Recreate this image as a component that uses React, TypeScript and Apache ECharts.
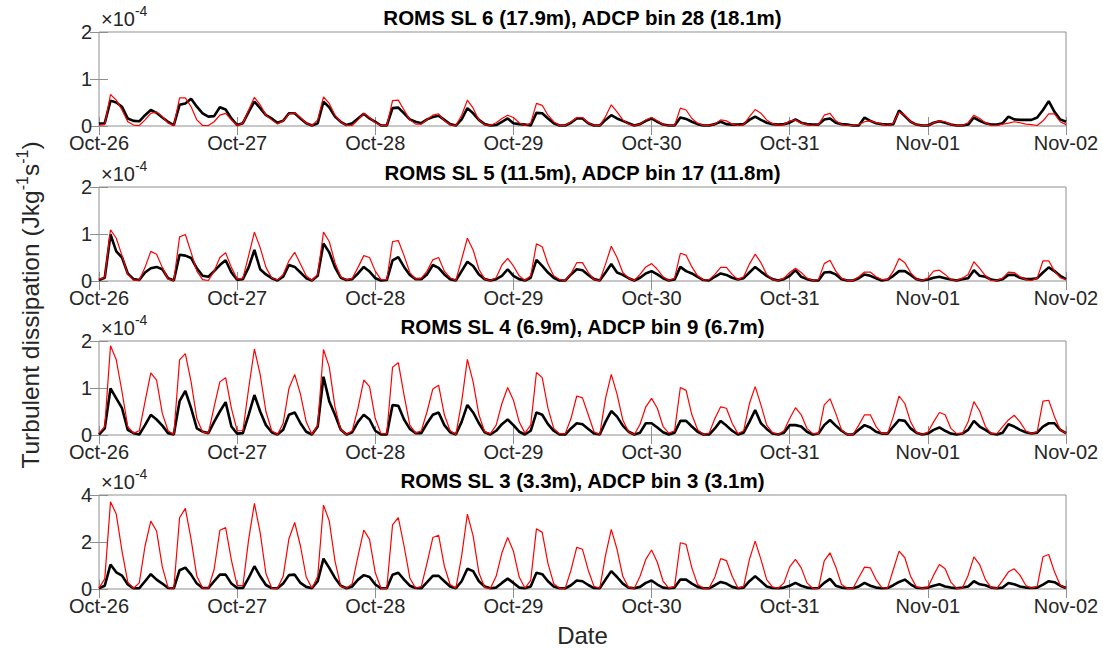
import React, { useEffect, useRef } from "react";
import * as echarts from "echarts";

// Tick labels on the time axis (one per day, hourly samples)
const dateLabels = ["Oct-26", "Oct-27", "Oct-28", "Oct-29", "Oct-30", "Oct-31", "Nov-01", "Nov-02"];
const hoursPerDay = 24;

// Values are in units of 1e-4 J kg^-1 s^-1, hourly from Oct-26 00:00 to Nov-02 00:00
const romsSL6 = [
  0.02, 0.03, 0.67, 0.55, 0.34, 0.09, 0.02, 0.01, 0.13, 0.27,
  0.30, 0.20, 0.06, 0.01, 0.60, 0.60, 0.41, 0.13, 0.01, 0.01,
  0.09, 0.23, 0.27, 0.13, 0.01, 0.06, 0.34, 0.61, 0.45, 0.23,
  0.13, 0.04, 0.11, 0.26, 0.28, 0.18, 0.06, 0.01, 0.13, 0.62,
  0.48, 0.23, 0.09, 0.01, 0.01, 0.13, 0.27, 0.18, 0.07, 0.01,
  0.01, 0.54, 0.55, 0.34, 0.13, 0.04, 0.04, 0.14, 0.23, 0.26,
  0.11, 0.03, 0.01, 0.23, 0.55, 0.38, 0.13, 0.03, 0.01, 0.07,
  0.16, 0.23, 0.18, 0.07, 0.01, 0.06, 0.48, 0.44, 0.23, 0.09,
  0.01, 0.01, 0.09, 0.18, 0.18, 0.07, 0.01, 0.01, 0.20, 0.45,
  0.30, 0.13, 0.04, 0.01, 0.04, 0.13, 0.18, 0.11, 0.03, 0.01,
  0.01, 0.38, 0.34, 0.16, 0.06, 0.01, 0.01, 0.04, 0.13, 0.11,
  0.04, 0.01, 0.03, 0.20, 0.35, 0.27, 0.13, 0.05, 0.02, 0.03,
  0.11, 0.13, 0.06, 0.03, 0.01, 0.03, 0.23, 0.27, 0.11, 0.03,
  0.01, 0.01, 0.03, 0.09, 0.11, 0.07, 0.04, 0.01, 0.06, 0.30,
  0.23, 0.09, 0.03, 0.01, 0.01, 0.07, 0.11, 0.09, 0.03, 0.01,
  0.01, 0.07, 0.23, 0.16, 0.07, 0.01, 0.01, 0.04, 0.06, 0.09,
  0.07, 0.04, 0.03, 0.01, 0.11, 0.26, 0.26, 0.09, 0.03,
];
const adcpBin28 = [
  0.05, 0.06, 0.54, 0.50, 0.41, 0.16, 0.11, 0.10, 0.23, 0.34,
  0.28, 0.18, 0.09, 0.02, 0.45, 0.48, 0.58, 0.41, 0.27, 0.20,
  0.21, 0.40, 0.35, 0.16, 0.02, 0.06, 0.30, 0.52, 0.38, 0.23,
  0.16, 0.07, 0.11, 0.27, 0.27, 0.16, 0.06, 0.01, 0.06, 0.52,
  0.40, 0.20, 0.09, 0.02, 0.06, 0.16, 0.26, 0.16, 0.09, 0.01,
  0.01, 0.38, 0.39, 0.27, 0.14, 0.09, 0.06, 0.14, 0.19, 0.22,
  0.13, 0.04, 0.01, 0.14, 0.38, 0.27, 0.13, 0.04, 0.01, 0.02,
  0.09, 0.16, 0.06, 0.04, 0.03, 0.01, 0.28, 0.27, 0.16, 0.06,
  0.01, 0.01, 0.07, 0.16, 0.16, 0.06, 0.01, 0.01, 0.13, 0.23,
  0.16, 0.11, 0.06, 0.01, 0.04, 0.11, 0.16, 0.09, 0.03, 0.01,
  0.01, 0.18, 0.15, 0.09, 0.04, 0.01, 0.01, 0.04, 0.09, 0.04,
  0.03, 0.03, 0.04, 0.13, 0.20, 0.13, 0.07, 0.04, 0.03, 0.04,
  0.07, 0.14, 0.07, 0.04, 0.03, 0.03, 0.14, 0.16, 0.07, 0.04,
  0.03, 0.01, 0.01, 0.18, 0.11, 0.06, 0.04, 0.03, 0.04, 0.33,
  0.21, 0.09, 0.03, 0.01, 0.01, 0.07, 0.10, 0.07, 0.03, 0.01,
  0.01, 0.03, 0.18, 0.11, 0.06, 0.03, 0.03, 0.06, 0.20, 0.14,
  0.13, 0.13, 0.13, 0.18, 0.34, 0.53, 0.30, 0.14, 0.09,
];
const romsSL5 = [
  0.04, 0.07, 1.09, 0.91, 0.54, 0.14, 0.02, 0.02, 0.29, 0.63,
  0.57, 0.29, 0.04, 0.01, 0.94, 0.99, 0.61, 0.21, 0.03, 0.01,
  0.21, 0.50, 0.60, 0.29, 0.04, 0.06, 0.54, 1.04, 0.71, 0.29,
  0.07, 0.02, 0.14, 0.43, 0.61, 0.36, 0.11, 0.01, 0.14, 1.04,
  0.84, 0.39, 0.09, 0.02, 0.06, 0.29, 0.54, 0.50, 0.21, 0.03,
  0.03, 0.84, 0.86, 0.54, 0.18, 0.04, 0.06, 0.21, 0.45, 0.50,
  0.21, 0.07, 0.01, 0.46, 0.91, 0.66, 0.25, 0.04, 0.01, 0.07,
  0.34, 0.48, 0.32, 0.11, 0.01, 0.11, 0.79, 0.73, 0.36, 0.11,
  0.03, 0.01, 0.16, 0.39, 0.39, 0.18, 0.03, 0.01, 0.36, 0.74,
  0.50, 0.18, 0.06, 0.01, 0.14, 0.30, 0.37, 0.25, 0.09, 0.01,
  0.06, 0.59, 0.55, 0.30, 0.11, 0.02, 0.03, 0.14, 0.29, 0.29,
  0.14, 0.03, 0.09, 0.36, 0.57, 0.39, 0.14, 0.03, 0.01, 0.06,
  0.18, 0.27, 0.18, 0.06, 0.01, 0.03, 0.37, 0.44, 0.21, 0.06,
  0.01, 0.01, 0.09, 0.19, 0.19, 0.09, 0.03, 0.03, 0.21, 0.48,
  0.39, 0.18, 0.04, 0.01, 0.06, 0.21, 0.23, 0.14, 0.03, 0.01,
  0.06, 0.14, 0.41, 0.27, 0.11, 0.01, 0.01, 0.06, 0.19, 0.18,
  0.09, 0.03, 0.01, 0.06, 0.43, 0.43, 0.21, 0.07, 0.03,
];
const adcpBin17 = [
  0.02, 0.07, 0.99, 0.63, 0.50, 0.16, 0.04, 0.02, 0.18, 0.27,
  0.30, 0.25, 0.06, 0.01, 0.56, 0.54, 0.49, 0.27, 0.11, 0.09,
  0.21, 0.34, 0.44, 0.18, 0.03, 0.04, 0.29, 0.66, 0.25, 0.14,
  0.06, 0.01, 0.09, 0.34, 0.30, 0.18, 0.06, 0.01, 0.11, 0.80,
  0.61, 0.29, 0.07, 0.02, 0.04, 0.16, 0.30, 0.20, 0.06, 0.01,
  0.02, 0.44, 0.51, 0.30, 0.13, 0.04, 0.04, 0.14, 0.34, 0.28,
  0.14, 0.04, 0.01, 0.21, 0.41, 0.32, 0.14, 0.04, 0.01, 0.04,
  0.11, 0.25, 0.11, 0.04, 0.01, 0.07, 0.45, 0.32, 0.18, 0.07,
  0.01, 0.01, 0.14, 0.25, 0.23, 0.13, 0.04, 0.01, 0.18, 0.36,
  0.18, 0.13, 0.06, 0.01, 0.07, 0.16, 0.21, 0.14, 0.06, 0.01,
  0.03, 0.30, 0.21, 0.16, 0.09, 0.02, 0.01, 0.09, 0.16, 0.13,
  0.07, 0.03, 0.06, 0.18, 0.30, 0.20, 0.11, 0.04, 0.01, 0.04,
  0.11, 0.23, 0.09, 0.04, 0.01, 0.01, 0.18, 0.19, 0.14, 0.04,
  0.01, 0.01, 0.06, 0.14, 0.11, 0.06, 0.01, 0.03, 0.11, 0.21,
  0.21, 0.13, 0.04, 0.01, 0.03, 0.07, 0.09, 0.06, 0.03, 0.01,
  0.04, 0.06, 0.23, 0.11, 0.09, 0.03, 0.01, 0.04, 0.13, 0.13,
  0.07, 0.04, 0.04, 0.06, 0.18, 0.29, 0.21, 0.11, 0.04,
];
const romsSL4 = [
  0.04, 0.18, 1.90, 1.60, 0.92, 0.18, 0.04, 0.09, 0.71, 1.32,
  1.17, 0.46, 0.09, 0.01, 1.60, 1.73, 1.13, 0.35, 0.06, 0.04,
  0.60, 1.13, 1.22, 0.57, 0.09, 0.09, 0.99, 1.83, 1.29, 0.50,
  0.09, 0.01, 0.25, 0.99, 1.29, 0.87, 0.28, 0.01, 0.21, 1.82,
  1.45, 0.60, 0.11, 0.01, 0.09, 0.57, 1.17, 1.03, 0.35, 0.03,
  0.03, 1.44, 1.54, 0.85, 0.21, 0.04, 0.09, 0.50, 0.98, 1.06,
  0.43, 0.09, 0.01, 0.70, 1.61, 1.13, 0.43, 0.07, 0.03, 0.21,
  0.67, 1.01, 0.74, 0.28, 0.04, 0.21, 1.33, 1.22, 0.57, 0.14,
  0.03, 0.03, 0.35, 0.83, 0.79, 0.43, 0.07, 0.01, 0.78, 1.29,
  0.87, 0.32, 0.07, 0.01, 0.23, 0.60, 0.78, 0.57, 0.18, 0.04,
  0.09, 1.01, 0.95, 0.43, 0.11, 0.01, 0.04, 0.35, 0.60, 0.57,
  0.25, 0.03, 0.09, 0.67, 1.03, 0.64, 0.21, 0.05, 0.01, 0.09,
  0.35, 0.58, 0.43, 0.14, 0.03, 0.03, 0.64, 0.77, 0.46, 0.11,
  0.01, 0.01, 0.21, 0.43, 0.43, 0.18, 0.03, 0.03, 0.39, 0.83,
  0.67, 0.28, 0.06, 0.01, 0.06, 0.28, 0.48, 0.43, 0.14, 0.03,
  0.03, 0.28, 0.71, 0.51, 0.18, 0.03, 0.03, 0.18, 0.32, 0.42,
  0.28, 0.09, 0.03, 0.07, 0.72, 0.74, 0.39, 0.11, 0.04,
];
const adcpBin9 = [
  0.01, 0.14, 0.99, 0.78, 0.57, 0.11, 0.04, 0.01, 0.21, 0.43,
  0.33, 0.20, 0.04, 0.01, 0.72, 0.94, 0.57, 0.14, 0.07, 0.04,
  0.28, 0.50, 0.70, 0.18, 0.03, 0.04, 0.43, 0.85, 0.50, 0.21,
  0.06, 0.01, 0.11, 0.43, 0.48, 0.25, 0.07, 0.01, 0.18, 1.24,
  0.72, 0.43, 0.11, 0.01, 0.06, 0.28, 0.43, 0.33, 0.09, 0.01,
  0.01, 0.64, 0.62, 0.33, 0.13, 0.04, 0.04, 0.25, 0.43, 0.48,
  0.21, 0.06, 0.01, 0.28, 0.64, 0.48, 0.25, 0.06, 0.01, 0.09,
  0.23, 0.33, 0.21, 0.07, 0.01, 0.09, 0.48, 0.43, 0.23, 0.09,
  0.01, 0.01, 0.14, 0.25, 0.23, 0.13, 0.03, 0.01, 0.28, 0.51,
  0.39, 0.20, 0.07, 0.01, 0.05, 0.25, 0.25, 0.16, 0.06, 0.01,
  0.05, 0.30, 0.30, 0.18, 0.07, 0.01, 0.01, 0.14, 0.30, 0.20,
  0.09, 0.01, 0.05, 0.28, 0.53, 0.25, 0.13, 0.03, 0.01, 0.05,
  0.21, 0.21, 0.18, 0.07, 0.01, 0.03, 0.21, 0.32, 0.20, 0.09,
  0.01, 0.01, 0.11, 0.21, 0.16, 0.07, 0.03, 0.03, 0.18, 0.32,
  0.30, 0.14, 0.05, 0.01, 0.03, 0.11, 0.16, 0.09, 0.03, 0.01,
  0.03, 0.11, 0.30, 0.18, 0.11, 0.03, 0.01, 0.05, 0.23, 0.18,
  0.11, 0.06, 0.03, 0.05, 0.18, 0.25, 0.25, 0.11, 0.04,
];
const romsSL3 = [
  0.04, 0.43, 3.71, 3.19, 1.61, 0.29, 0.03, 0.26, 1.83, 2.89,
  2.47, 0.94, 0.06, 0.03, 3.03, 3.43, 2.11, 0.54, 0.04, 0.04,
  0.83, 2.50, 2.61, 1.23, 0.14, 0.14, 2.11, 3.64, 2.40, 0.66,
  0.04, 0.03, 0.54, 2.14, 2.83, 1.83, 0.51, 0.03, 0.54, 3.57,
  2.90, 1.19, 0.11, 0.03, 0.23, 1.40, 2.51, 2.11, 0.69, 0.03,
  0.03, 2.73, 3.04, 1.83, 0.47, 0.03, 0.11, 1.11, 2.19, 2.29,
  0.97, 0.19, 0.03, 1.40, 3.19, 2.26, 0.69, 0.06, 0.03, 0.54,
  1.54, 2.19, 1.61, 0.51, 0.04, 0.37, 2.56, 2.41, 1.09, 0.23,
  0.03, 0.04, 0.80, 1.77, 1.69, 0.80, 0.11, 0.03, 1.43, 2.54,
  1.69, 0.54, 0.06, 0.03, 0.54, 1.26, 1.66, 1.14, 0.33, 0.04,
  0.11, 1.97, 1.90, 0.90, 0.19, 0.03, 0.04, 0.51, 1.29, 1.21,
  0.54, 0.04, 0.11, 1.26, 2.04, 1.26, 0.40, 0.09, 0.03, 0.26,
  0.94, 1.26, 0.90, 0.26, 0.03, 0.04, 1.20, 1.54, 0.94, 0.19,
  0.03, 0.03, 0.49, 0.93, 0.90, 0.40, 0.06, 0.04, 0.83, 1.61,
  1.33, 0.54, 0.09, 0.03, 0.06, 0.59, 1.04, 0.86, 0.29, 0.03,
  0.04, 0.59, 1.37, 1.04, 0.40, 0.06, 0.03, 0.37, 0.73, 0.86,
  0.59, 0.16, 0.03, 0.11, 1.37, 1.47, 0.73, 0.16, 0.04,
];
const adcpBin3 = [
  0.03, 0.14, 1.04, 0.71, 0.57, 0.19, 0.03, 0.03, 0.33, 0.63,
  0.40, 0.23, 0.04, 0.03, 0.80, 0.91, 0.61, 0.23, 0.04, 0.04,
  0.33, 0.61, 0.61, 0.23, 0.04, 0.04, 0.47, 0.97, 0.54, 0.17,
  0.04, 0.03, 0.23, 0.59, 0.61, 0.26, 0.09, 0.03, 0.33, 1.29,
  0.90, 0.47, 0.14, 0.03, 0.11, 0.40, 0.59, 0.51, 0.19, 0.03,
  0.03, 0.61, 0.69, 0.40, 0.14, 0.04, 0.03, 0.29, 0.56, 0.56,
  0.33, 0.11, 0.03, 0.33, 0.86, 0.76, 0.33, 0.11, 0.03, 0.06,
  0.26, 0.44, 0.26, 0.06, 0.03, 0.11, 0.69, 0.63, 0.33, 0.11,
  0.03, 0.03, 0.16, 0.36, 0.33, 0.17, 0.04, 0.03, 0.40, 0.76,
  0.51, 0.23, 0.06, 0.03, 0.09, 0.26, 0.36, 0.19, 0.06, 0.03,
  0.06, 0.40, 0.40, 0.23, 0.09, 0.03, 0.03, 0.16, 0.30, 0.23,
  0.09, 0.03, 0.06, 0.33, 0.54, 0.33, 0.11, 0.04, 0.03, 0.06,
  0.14, 0.26, 0.14, 0.06, 0.03, 0.04, 0.26, 0.43, 0.14, 0.06,
  0.03, 0.03, 0.11, 0.26, 0.14, 0.06, 0.03, 0.04, 0.16, 0.30,
  0.40, 0.20, 0.06, 0.03, 0.06, 0.14, 0.20, 0.11, 0.06, 0.03,
  0.06, 0.11, 0.33, 0.20, 0.16, 0.06, 0.03, 0.06, 0.26, 0.20,
  0.11, 0.06, 0.04, 0.06, 0.19, 0.33, 0.29, 0.14, 0.04,
];

const panelTitles = [
  "ROMS SL 6 (17.9m), ADCP bin 28 (18.1m)",
  "ROMS SL 5 (11.5m), ADCP bin 17 (11.8m)",
  "ROMS SL 4 (6.9m), ADCP bin 9 (6.7m)",
  "ROMS SL 3 (3.3m), ADCP bin 3 (3.1m)",
];
const romsSeries = [romsSL6, romsSL5, romsSL4, romsSL3];
const adcpSeries = [adcpBin28, adcpBin17, adcpBin9, adcpBin3];
const yMaxes = [2, 2, 2, 4];
const yIntervals = [1, 1, 1, 2];
const exponentLabel = "-4";
const yAxisName = "Turbulent dissipation (Jkg{sup|-1}s{sup|-1})";
const xAxisName = "Date";

const FONT = "'Liberation Sans', Arial, Helvetica, sans-serif";
const GRID_LEFT = 99;
const GRID_WIDTH = 967;
const GRID_TOPS = [32, 187, 341, 495];
const GRID_HEIGHT = 94;
const BOX = "#8f8f8f";
const TXT = "#262626";

export default function App() {
  const ref = useRef<HTMLDivElement>(null);

  useEffect(() => {
    if (!ref.current) return;
    const chart = echarts.init(ref.current, undefined, { renderer: "svg" });
    const nHours = (dateLabels.length - 1) * hoursPerDay;

    const grids: any[] = [];
    const xAxes: any[] = [];
    const yAxes: any[] = [];
    const series: any[] = [];
    const titles: any[] = [];
    const graphics: any[] = [];

    const tick = { show: true, inside: true, length: 9, lineStyle: { color: BOX, width: 1 } };

    panelTitles.forEach((t, i) => {
      grids.push({
        left: GRID_LEFT,
        top: GRID_TOPS[i],
        width: GRID_WIDTH,
        height: GRID_HEIGHT,
        show: true,
        borderColor: BOX,
        borderWidth: 1,
        backgroundColor: "#fff",
      });
      const xBase = {
        gridIndex: i,
        type: "value",
        min: 0,
        max: nHours,
        interval: hoursPerDay,
        axisLine: { show: false },
        splitLine: { show: false },
        axisTick: tick,
      };
      xAxes.push({
        ...xBase,
        position: "bottom",
        axisLabel: {
          show: true,
          margin: 9,
          fontSize: 20,
          lineHeight: 16,
          fontFamily: FONT,
          color: TXT,
          formatter: (v: number) => dateLabels[Math.round(v / hoursPerDay)] ?? "",
        },
      });
      xAxes.push({ ...xBase, position: "top", axisLabel: { show: false } });
      const yBase = {
        gridIndex: i,
        type: "value",
        min: 0,
        max: yMaxes[i],
        interval: yIntervals[i],
        axisLine: { show: false },
        splitLine: { show: false },
        axisTick: tick,
      };
      yAxes.push({
        ...yBase,
        position: "left",
        axisLabel: { show: true, margin: 7, fontSize: 20, lineHeight: 15, fontFamily: FONT, color: TXT },
      });
      yAxes.push({ ...yBase, position: "right", axisLabel: { show: false } });

      series.push({
        type: "line",
        name: "ADCP",
        xAxisIndex: i * 2,
        yAxisIndex: i * 2,
        data: adcpSeries[i].map((v, h) => [h, v]),
        showSymbol: false,
        symbol: "none",
        lineStyle: { color: "#000000", width: 2.6 },
        z: 2,
      });
      series.push({
        type: "line",
        name: "ROMS",
        xAxisIndex: i * 2,
        yAxisIndex: i * 2,
        data: romsSeries[i].map((v, h) => [h, v]),
        showSymbol: false,
        symbol: "none",
        lineStyle: { color: "#ff0000", width: 1.2 },
        z: 3,
      });

      titles.push({
        text: t,
        left: GRID_LEFT + GRID_WIDTH / 2,
        textAlign: "center",
        top: GRID_TOPS[i] - 25,
        padding: 0,
        textStyle: { fontSize: 20.5, fontWeight: "bold", fontFamily: FONT, color: "#000" },
      });

      graphics.push({
        type: "text",
        left: GRID_LEFT + 2,
        top: GRID_TOPS[i] - 28,
        style: {
          text: "×10{sup|" + exponentLabel + "}",
          fontSize: 20,
          fontFamily: FONT,
          fill: TXT,
          rich: {
            sup: { fontSize: 14, fontFamily: FONT, fill: TXT, verticalAlign: "top", lineHeight: 30 },
          },
          lineHeight: 30,
          verticalAlign: "bottom",
        },
      });
    });

    graphics.push({
      type: "text",
      x: 30,
      y: 305,
      rotation: Math.PI / 2,
      style: {
        text: yAxisName,
        fontSize: 24.5,
        fontFamily: FONT,
        fill: TXT,
        align: "center",
        verticalAlign: "middle",
        lineHeight: 32,
        rich: {
          sup: { fontSize: 16, fontFamily: FONT, fill: TXT, verticalAlign: "top", lineHeight: 32 },
        },
      },
    });
    graphics.push({
      type: "text",
      x: GRID_LEFT + GRID_WIDTH / 2,
      y: 635,
      style: {
        text: xAxisName,
        fontSize: 24,
        fontFamily: FONT,
        fill: TXT,
        align: "center",
        verticalAlign: "middle",
      },
    });

    chart.setOption({
      animation: false,
      backgroundColor: "#ffffff",
      title: titles,
      grid: grids,
      xAxis: xAxes,
      yAxis: yAxes,
      series,
      graphic: graphics,
    });

    return () => chart.dispose();
  }, []);

  return (
    <div
      ref={ref}
      style={{ position: "fixed", left: 0, top: 0, width: 1103, height: 649, background: "#fff" }}
    />
  );
}
